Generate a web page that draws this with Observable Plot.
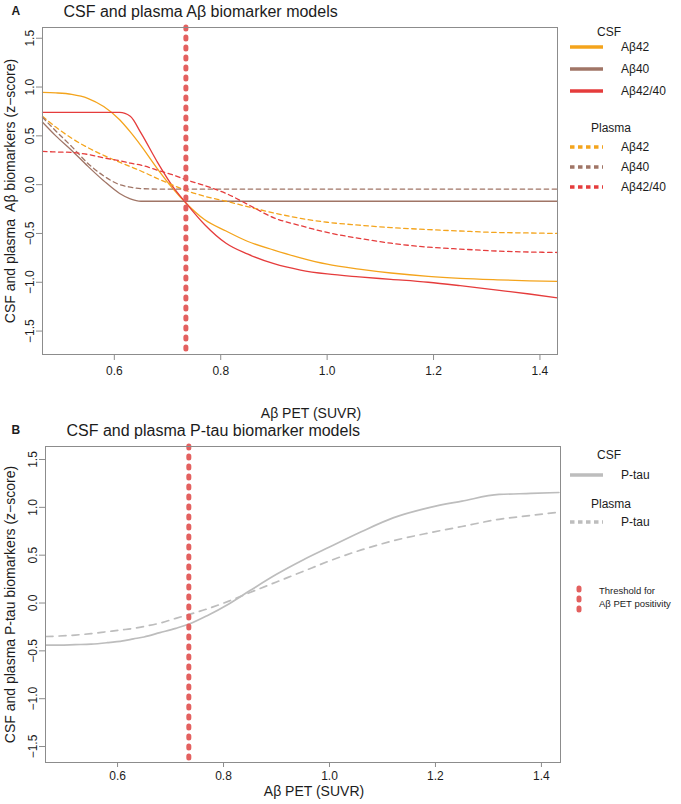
<!DOCTYPE html>
<html><head><meta charset="utf-8">
<script src="https://cdn.jsdelivr.net/npm/d3@7"></script>
<script src="https://cdn.jsdelivr.net/npm/@observablehq/plot@0.6"></script>
<style>
body{margin:0;background:#fff;}
#chart{position:relative;width:681px;height:804px;font-family:"Liberation Sans",Arial,Helvetica,sans-serif;}
#chart svg{display:block;}
</style></head><body><div id="chart"></div>
<script>
// ---------- data ----------
const suvr = [0.465,0.49,0.52,0.55,0.58,0.61,0.63,0.65,0.68,0.71,0.735,0.77,0.81,0.85,0.90,0.95,1.00,1.06,1.12,1.19,1.25,1.32,1.38,1.433];

const csfAb42    = [0.945,0.94,0.925,0.885,0.80,0.665,0.54,0.40,0.17,-0.04,-0.19,-0.36,-0.475,-0.58,-0.67,-0.75,-0.815,-0.865,-0.905,-0.94,-0.96,-0.975,-0.985,-0.99];
const csfAb40    = [0.64,0.50,0.35,0.19,0.04,-0.09,-0.145,-0.17,-0.17,-0.17,-0.17,-0.17,-0.17,-0.17,-0.17,-0.17,-0.17,-0.17,-0.17,-0.17,-0.17,-0.17,-0.17,-0.17];
const csfAbRatio = [0.74,0.74,0.74,0.74,0.74,0.74,0.70,0.53,0.24,-0.02,-0.19,-0.41,-0.60,-0.71,-0.81,-0.875,-0.915,-0.945,-0.97,-1.00,-1.035,-1.08,-1.12,-1.16];
const plasmaAb42    = [0.70,0.59,0.475,0.38,0.30,0.23,0.185,0.14,0.065,-0.005,-0.06,-0.12,-0.17,-0.225,-0.29,-0.345,-0.385,-0.415,-0.44,-0.46,-0.475,-0.49,-0.495,-0.50];
const plasmaAb40    = [0.69,0.55,0.39,0.22,0.09,0.00,-0.025,-0.04,-0.045,-0.045,-0.045,-0.045,-0.045,-0.045,-0.045,-0.045,-0.045,-0.045,-0.045,-0.045,-0.045,-0.045,-0.045,-0.045];
const plasmaAbRatio = [0.34,0.335,0.33,0.31,0.275,0.245,0.22,0.20,0.15,0.10,0.05,-0.01,-0.09,-0.20,-0.34,-0.42,-0.49,-0.55,-0.60,-0.64,-0.66,-0.68,-0.69,-0.695];

const csfPtau    = [-0.44,-0.44,-0.435,-0.43,-0.415,-0.395,-0.375,-0.355,-0.31,-0.265,-0.22,-0.13,-0.01,0.13,0.30,0.45,0.585,0.745,0.89,1.00,1.065,1.135,1.145,1.155];
const plasmaPtau = [-0.35,-0.345,-0.335,-0.32,-0.30,-0.28,-0.265,-0.245,-0.21,-0.16,-0.12,-0.06,0.02,0.11,0.22,0.33,0.44,0.555,0.65,0.735,0.80,0.875,0.915,0.95];

const threshold = 0.7345;
const xTicks = [0.6,0.8,1.0,1.2,1.4];
const yTicks = [-1.5,-1.0,-0.5,0,0.5,1.0,1.5];
const abLabels = ["Aβ42","Aβ40","Aβ42/40"];

// ---------- styles ----------
const FONT = '"Liberation Sans",Arial,Helvetica,sans-serif';
const GRAY = "#8c8c8c";
const TXT = "#1c1c1c";
const THR = "#e3605f";
const COL = {ab42:"#f4a41c", ab40:"#a07566", ratio:"#e53c3c", ptau:"#bdbdbd"};
const DASH = "4.5,3.5";

function fmt(d){ return d.toFixed(1).replace("-", "\u2212"); }

function drawPanel(cfg){
  const rows = cfg.series.flatMap(s => suvr.map((x,i)=>({key:s.key, x, y:s.values[i]})));
  const marks = [
    ...cfg.series.map(s => Plot.line(rows.filter(r=>r.key===s.key), {
      x:"x", y:"y", stroke:s.color, strokeWidth:s.width, strokeDasharray:s.dash, curve:"monotone-x"})),
    Plot.ruleX([threshold], {stroke:THR, strokeWidth:5, strokeDasharray:"2,8", strokeLinecap:"round"}),
    Plot.frame({stroke:GRAY, strokeWidth:1}),
    Plot.axisX({ticks:xTicks, tickFormat:fmt, tickSize:cfg.xTickSize, tickPadding:cfg.xTickPad, fontSize:12, stroke:GRAY, fill:TXT, label:null}),
    Plot.axisY({ticks:yTicks, tickFormat:()=>"", tickSize:6, stroke:GRAY, label:null}),
    Plot.text(yTicks, {y:d=>d, frameAnchor:"left", text:fmt, rotate:-90, dx:-9, lineAnchor:"bottom", textAnchor:"middle", fontSize:12, fill:TXT}),
    Plot.text([cfg.xLabel], {frameAnchor:"bottom", dx:11, dy:cfg.xLabelDy, lineAnchor:"middle", fontSize:14, fill:TXT}),
    Plot.text([cfg.yLabel], {frameAnchor:"left", dx:cfg.yLabelDx, rotate:-90, lineAnchor:"middle", textAnchor:"middle", fontSize:14, fill:TXT}),
    Plot.text([cfg.title], {frameAnchor:"top-left", dx:cfg.titleDx, dy:-16, textAnchor:"start", lineAnchor:"middle", fontSize:16, fill:TXT}),
    Plot.text([cfg.letter], {frameAnchor:"top-left", dx:cfg.letterDx, dy:-16, textAnchor:"start", lineAnchor:"middle", fontSize:12, fontWeight:"bold", fill:TXT})
  ];
  return Plot.plot({
    width:681, height:cfg.height,
    marginTop:cfg.mt, marginBottom:cfg.mb, marginLeft:cfg.ml, marginRight:cfg.mr,
    x:{domain:cfg.xDomain},
    y:{domain:cfg.yDomain},
    style:{fontFamily:FONT, background:"#fff", overflow:"visible"},
    marks
  });
}

const panelA = drawPanel({
  height:424, mt:27, mb:70, ml:42, mr:124,
  xDomain:[0.465,1.433], yDomain:[-1.74,1.61],
  xTickSize:6, xTickPad:6, xLabelDy:59, yLabelDx:-32, titleDx:21, letterDx:-31,
  xLabel:"Aβ PET (SUVR)",
  yLabel:"CSF and plasma\u00A0 Aβ biomarkers (z\u2212score)",
  title:"CSF and plasma Aβ biomarker models", letter:"A",
  series:[
    {key:"csf42", values:csfAb42, color:COL.ab42, width:1.3},
    {key:"csf40", values:csfAb40, color:COL.ab40, width:1.3},
    {key:"csfR", values:csfAbRatio, color:COL.ratio, width:1.3},
    {key:"pl42", values:plasmaAb42, color:COL.ab42, width:1.3, dash:DASH},
    {key:"pl40", values:plasmaAb40, color:COL.ab40, width:1.3, dash:DASH},
    {key:"plR", values:plasmaAbRatio, color:COL.ratio, width:1.3, dash:DASH}
  ]
});

const panelB = drawPanel({
  height:380, mt:22, mb:42, ml:45, mr:121,
  xDomain:[0.464,1.436], yDomain:[-1.667,1.636],
  xTickSize:5, xTickPad:4, xLabelDy:29, yLabelDx:-35, titleDx:21, letterDx:-34,
  xLabel:"Aβ PET (SUVR)",
  yLabel:"CSF and plasma P-tau biomarkers (z\u2212score)",
  title:"CSF and plasma P-tau biomarker models", letter:"B",
  series:[
    {key:"csfP", values:csfPtau, color:COL.ptau, width:1.7},
    {key:"plP", values:plasmaPtau, color:COL.ptau, width:1.7, dash:"7,6"}
  ]
});

const chart = document.getElementById("chart");
chart.appendChild(panelA);
chart.appendChild(panelB);

// ---------- legends ----------
function legendText(g, x, y, t, size, anchor){
  g.append("text").attr("x",x).attr("y",y).attr("font-size",size).attr("fill",TXT)
   .attr("font-family",FONT).attr("text-anchor",anchor||"start").text(t);
}
function legendLine(g, y, color, dash){
  g.append("line").attr("x1",570).attr("x2",603).attr("y1",y).attr("y2",y)
   .attr("stroke",color).attr("stroke-width",3.5).attr("stroke-dasharray",dash||null);
}
{
  const g = d3.select(panelA).append("g");
  const cols = [COL.ab42, COL.ab40, COL.ratio];
  legendText(g, 609, 36, "CSF", 12, "middle");
  [47,69,91].forEach((y,i)=>{ legendLine(g,y,cols[i]); legendText(g,621,y+4,abLabels[i],12); });
  legendText(g, 611, 132, "Plasma", 12, "middle");
  [147,167,187].forEach((y,i)=>{ legendLine(g,y,cols[i],DASH); legendText(g,621,y+4,abLabels[i],12); });
}
{
  const g = d3.select(panelB).append("g");
  legendText(g, 609, 35, "CSF", 12, "middle");
  legendLine(g, 51, COL.ptau); legendText(g, 621, 55, "P-tau", 12);
  legendText(g, 611, 84, "Plasma", 12, "middle");
  legendLine(g, 98, COL.ptau, DASH); legendText(g, 621, 102, "P-tau", 12);
  g.append("line").attr("x1",579).attr("x2",579).attr("y1",164).attr("y2",193)
   .attr("stroke",THR).attr("stroke-width",5).attr("stroke-dasharray","2,8").attr("stroke-linecap","round");
  legendText(g, 599, 170, "Threshold for", 9.5);
  legendText(g, 599, 183, "Aβ PET positivity", 9.5);
}
</script></body></html>
